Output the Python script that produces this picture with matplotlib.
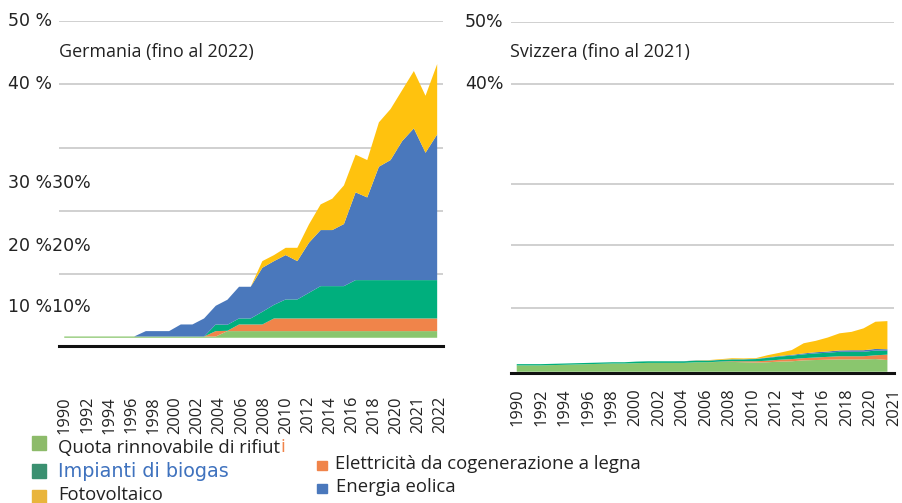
import numpy as np
import matplotlib
matplotlib.use("Agg")
import matplotlib.pyplot as plt
from matplotlib.patches import Rectangle

plt.rcParams['font.family'] = ['Open Sans', 'DejaVu Sans']

# Germania 1990-2022, quote in %
years_de = np.arange(1990, 2023)
de_waste = [0.2] * 14 + [1.05] * 19
de_wood = [0] * 12 + [0, 0.85, 0.05, 1.05, 1.05, 1.05] + [2.0] * 15
de_biogas = [0] * 13 + [1.05, 0.95, 0.95, 0.95, 2.0, 2.15, 3.0, 3.0, 4.05, 5.1, 5.1, 5.1] + [6.05] * 8
de_wind = [0] * 7 + [0.85, 0.85, 0.85, 1.9, 1.9, 2.85, 2.95, 3.95, 5.0, 5.0, 6.95, 6.9, 7.0,
                     6.05, 7.9, 8.85, 8.85, 9.8, 13.85, 13.05, 17.9, 18.95, 21.95, 23.95, 20.1, 23.0]
de_solar = [0] * 17 + [1.05, 0.95, 1.15, 2.1, 2.9, 4.05, 4.95, 6.1, 5.95, 5.9, 7.0, 8.05,
                       8.05, 9.05, 9.0, 11.1]

# Svizzera 1990-2021
years_ch = np.arange(1990, 2022)
ch_waste = [1.0, 1.0, 1.0, 1.05, 1.1, 1.15, 1.2, 1.25, 1.3, 1.3, 1.35, 1.4, 1.4, 1.4, 1.4, 1.5,
            1.5, 1.55, 1.55, 1.5, 1.45, 1.5, 1.6, 1.65, 1.8, 1.85, 1.9, 1.95, 1.95, 1.95, 2.0, 1.85]
ch_wood = [0] * 17 + [0.05, 0.1, 0.15, 0.2, 0.25, 0.3, 0.35, 0.35, 0.4, 0.45, 0.5, 0.5, 0.5, 0.6, 0.85]
ch_biogas = [0.2] * 10 + [0.25] * 8 + [0.3, 0.3, 0.35, 0.45, 0.5, 0.55, 0.6, 0.65, 0.65, 0.7,
                                        0.7, 0.7, 0.75, 0.6]
ch_wind = [0] * 14 + [0.02, 0.03, 0.03, 0.03, 0.03, 0.03, 0.05, 0.07, 0.1, 0.12, 0.15, 0.18,
                      0.2, 0.22, 0.25, 0.25, 0.25, 0.25]
ch_solar = [0] * 15 + [0.02, 0.05, 0.1, 0.15, 0.12, 0.1, 0.35, 0.5, 0.75, 1.6, 1.8, 2.2, 2.7,
                       2.9, 3.45, 4.3, 4.45]

de_ticklabels = [str(y) for y in range(1990, 2021, 2)] + ['2021', '2022']
ch_ticklabels = [str(y) for y in range(1990, 2021, 2)] + ['2021']

colors = ['#8AC66E', '#F0844A', '#00AF7D', '#4A78BC', '#FFC20E']
W, H = 902, 503


def fx(px):
    return px / W


def fy(py):
    return 1 - py / H


fig = plt.figure(figsize=(9.02, 5.03), dpi=100)

# left panel
ax1 = fig.add_axes([fx(59), fy(346), fx(443 - 59), (346 - 21) / H])
ax1.stackplot(years_de, de_waste, de_wood, de_biogas, de_wind, de_solar,
              colors=colors, linewidth=0)
ax1.set_xlim(1989.55, 2022.5)
ax1.set_ylim(-1.3, 50)
ax1.set_yticks([10, 20, 30, 40, 50])
ax1.set_yticklabels([])
ax1.set_xticks(np.linspace(1990.06, 2022.3, len(de_ticklabels)))
ax1.set_xticklabels(de_ticklabels, rotation=90, fontsize=11.8, color='#222222')
ax1.tick_params(axis='x', length=0, pad=36)
ax1.tick_params(axis='y', length=0)

# right panel
ax2 = fig.add_axes([fx(511), fy(373), fx(894 - 511), (373 - 21.7) / H])
ax2.stackplot(years_ch, ch_waste, ch_wood, ch_biogas, ch_wind, ch_solar,
              colors=colors, linewidth=0)
ax2.set_xlim(1989.52, 2021.47)
ax2.set_ylim(-0.2, 55.3)
ax2.set_yticks([10, 20, 29.6, 45.4, 55.3])
ax2.set_yticklabels([])
ax2.set_xticks(np.linspace(1990.1, 2021.55, len(ch_ticklabels)))
ax2.set_xticklabels(ch_ticklabels, rotation=90, fontsize=11.8, color='#222222')
ax2.tick_params(axis='x', length=0, pad=11)
ax2.tick_params(axis='y', length=0)

for ax in (ax1, ax2):
    ax.set_facecolor('none')
    ax.grid(axis='y', color='#C8C8C8', linewidth=1.2)
    ax.set_axisbelow(True)
    for s in ('top', 'right', 'left'):
        ax.spines[s].set_visible(False)
    ax.spines['bottom'].set_color('#111111')
    ax.spines['bottom'].set_linewidth(2.2)
    ax.spines['bottom'].set_zorder(5)

txt = '#222222'
fig.text(fx(59), fy(52), 'Germania (fino al 2022)', fontsize=12.9, color=txt, va='center')
fig.text(fx(510), fy(52), 'Svizzera (fino al 2021)', fontsize=12.9, color=txt, va='center')

yfont = ['DejaVu Sans']
for lab, py in [('50 %', 21), ('40 %', 84), ('30 %30%', 183), ('20 %20%', 246), ('10 %10%', 307)]:
    fig.text(fx(8), fy(py), lab, fontsize=12.5, color=txt, va='center', family=yfont)
for lab, py in [('50%', 22), ('40%', 84)]:
    fig.text(fx(465), fy(py), lab, fontsize=12.5, color=txt, va='center', family=yfont)

# legend
def square(x0, y0, w, h, color):
    fig.patches.append(Rectangle((fx(x0), fy(y0 + h)), w / W, h / H,
                                 transform=fig.transFigure, color=color, figure=fig))


square(32, 436, 14, 14, '#8DBB6A')
square(32, 464, 14, 14, '#3A9070')
square(32, 490, 14, 14, '#E9B53C')
square(317, 461, 10, 8.5, '#F0844A')
square(317, 483.5, 10, 9, '#4A78BC')

t = fig.text(fx(58), fy(447.5), 'Quota rinnovabile di rifiut', fontsize=13.3, color=txt, va='center')
fig.canvas.draw()
bb = t.get_window_extent()
fig.text(bb.x1 / W, fy(447.5), 'i', fontsize=13.3, color='#F0844A', va='center')
fig.text(fx(58), fy(471.5), 'Impianti di biogas', fontsize=13.8, color='#3F72BE',
         va='center', family=['DejaVu Sans'])
fig.text(fx(58), fy(495.5), 'Fotovoltaico', fontsize=13.3, color=txt, va='center')
fig.text(fx(335), fy(464), 'Elettricità da cogenerazione a legna', fontsize=13.3, color=txt, va='center')
fig.text(fx(336), fy(487), 'Energia eolica', fontsize=13.3, color=txt, va='center')

fig.savefig('out.png', dpi=100)
